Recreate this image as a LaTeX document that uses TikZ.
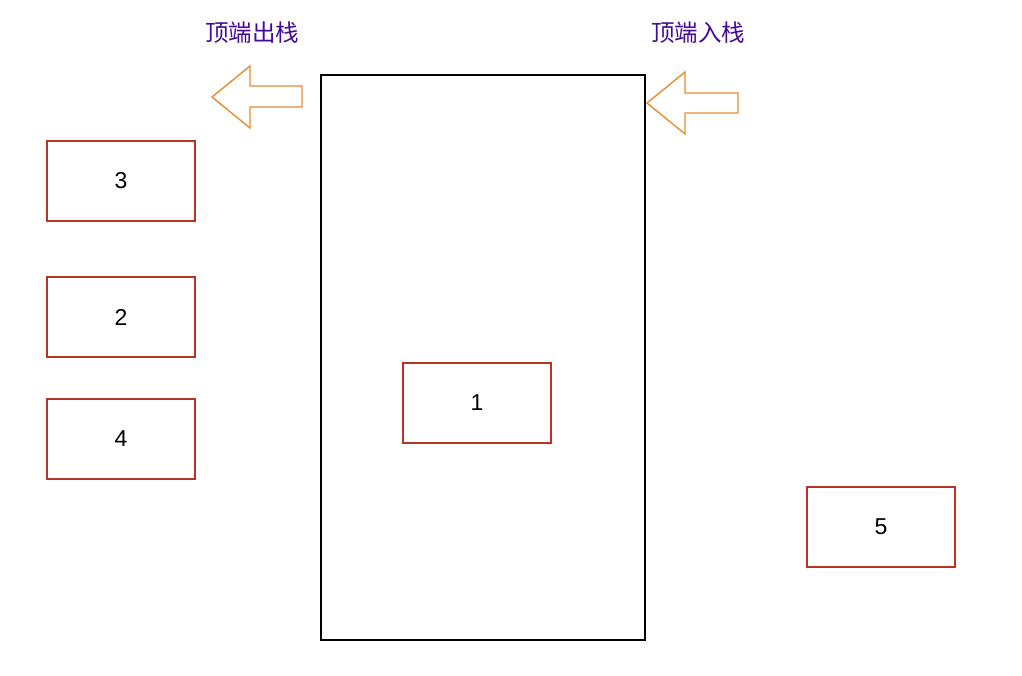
\documentclass[tikz,border=0pt]{standalone}
\usepackage{fontspec}
\setmainfont{Liberation Sans}
\newfontfamily\cjk{Noto Sans CJK SC}
\usetikzlibrary{positioning}

\definecolor{boxred}{RGB}{184,50,38}
\definecolor{arrorange}{RGB}{232,140,50}
\definecolor{labpurple}{RGB}{70,10,150}

\begin{document}
\begin{tikzpicture}[x=1pt,y=-1pt,node distance = 0mm and 0mm,
    elem/.style={rectangle,minimum width=148pt,minimum height=80pt,inner sep=0pt,outer sep=0pt,line width=1.6pt,draw=boxred,font=\fontsize{23}{25}\selectfont},
    stackbox/.style={rectangle,minimum width=324pt,minimum height=565pt,inner sep=0pt,line width=1.5pt,draw=black},
    hint/.style={text=labpurple,inner sep=0pt,font=\cjk\fontsize{23.5}{26}\selectfont},
    fatarrow/.style={draw=arrorange,line width=1.4pt,line join=miter},
   ]
    \useasboundingbox (0,0) rectangle (1022,676);

    \node (stack) [stackbox] at (483,357.5) {};
    \node (e1)    [elem] at (477,403) {1};

    \node (e3) [elem] at (121,181) {3};
    \node (e2) [elem,below=56pt of e3] {2};
    \node (e4) [elem,below=42pt of e2] {4};
    \node (e5) [elem] at (881,527) {5};

    \node (pop)  [hint] at (252,33) {顶端出栈};
    \node (push) [hint] at (698,33) {顶端入栈};

    % out arrow, left of the stack
    \draw[fatarrow] (212,97) -- (250,66) -- (250,86) -- (302,86)
                 -- (302,107) -- (250,107) -- (250,128) -- cycle;
    % in arrow, right of the stack
    \draw[fatarrow] (647,103) -- (685,72) -- (685,93) -- (738,93)
                 -- (738,113) -- (685,113) -- (685,134) -- cycle;
\end{tikzpicture}
\end{document}
